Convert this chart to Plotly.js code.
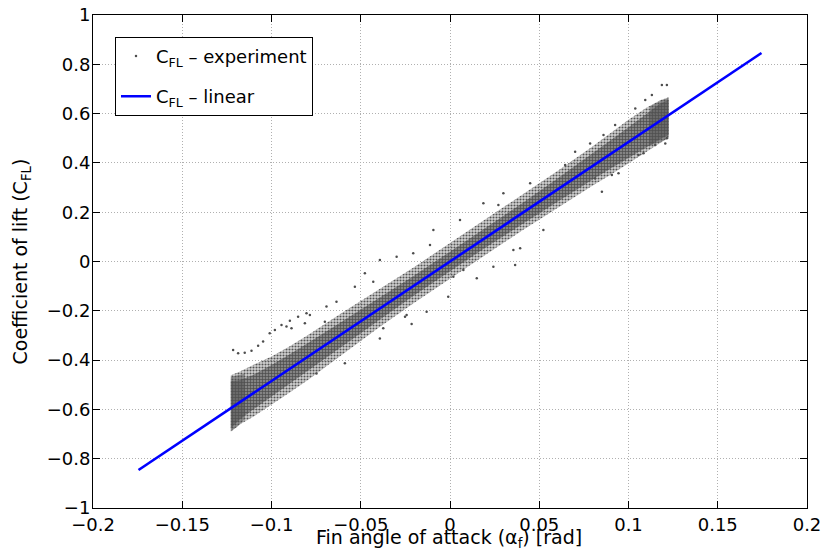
<!DOCTYPE html>
<html>
<head>
<meta charset="utf-8">
<script src="https://cdn.plot.ly/plotly-3.0.1.min.js"></script>
<style>html,body{margin:0;padding:0;background:#fff;}#chart{width:826px;height:554px;}</style>
</head>
<body>
<div id="chart"></div>
<script>
// ---- data ----
// envelope of the experimental scatter cloud (fin angle [rad] -> C_FL)
const bandX      = [-0.1228, -0.118, -0.11, -0.10, -0.09, -0.08, -0.06, -0.04, -0.02, 0, 0.02, 0.04, 0.06, 0.08, 0.09, 0.10, 0.11, 0.118, 0.1225];
const outerUpper = [-0.461, -0.447, -0.419, -0.385, -0.345, -0.300, -0.206, -0.114, -0.022, 0.075, 0.172, 0.269, 0.366, 0.468, 0.522, 0.575, 0.624, 0.655, 0.666];
const outerLower = [-0.691, -0.662, -0.629, -0.580, -0.532, -0.483, -0.376, -0.269, -0.167, -0.070, 0.027, 0.124, 0.216, 0.308, 0.352, 0.400, 0.444, 0.482, 0.504];
const innerUpper = [-0.486, -0.482, -0.459, -0.420, -0.377, -0.333, -0.241, -0.149, -0.057, 0.040, 0.137, 0.234, 0.336, 0.438, 0.492, 0.545, 0.599, 0.642, 0.655];
const innerLower = [-0.676, -0.642, -0.599, -0.545, -0.497, -0.443, -0.341, -0.239, -0.137, -0.040, 0.057, 0.149, 0.241, 0.333, 0.377, 0.420, 0.464, 0.497, 0.514];

// dense end columns of the cloud
const capLeftX   = [-0.1228, -0.1195, -0.1150];
const capLeftUp  = [-0.470, -0.462, -0.455];
const capLeftLo  = [-0.688, -0.672, -0.640];
const capRightX  = [0.1120, 0.1190, 0.1225];
const capRightUp = [0.630, 0.655, 0.664];
const capRightLo = [0.470, 0.488, 0.500];

// individual scattered experiment points outside the dense band
const expX = [-0.1215, -0.1187, -0.1150, -0.1112, -0.1075, -0.1047, -0.1010, -0.0981, -0.0944, -0.0897, -0.0851, -0.0804,
              -0.0215, -0.0589, -0.0393, -0.0252, -0.0748, -0.0916, -0.0785, -0.0692, -0.0636, -0.0888, -0.0813, -0.0701,
              -0.0533, -0.0477, -0.0430, -0.0393, -0.0299, -0.0206, -0.0112, -0.0374, -0.0131, -0.0010, -0.0243, -0.0093,
              0.0056, 0.0187, 0.0271, 0.0299, 0.0449, 0.0355, 0.0393, 0.0243, 0.0150, 0.0523, 0.0365, 0.0019, 0.0075,
              0.0785, 0.0925, 0.1038, 0.1094, 0.1187, 0.1215, 0.1131, 0.0701, 0.0645, 0.0851, 0.0907, 0.0944, 0.1056,
              0.1084, 0.1150, 0.1206, 0.0813, 0.0860, 0.1215];
const expY = [-0.359, -0.372, -0.370, -0.362, -0.342, -0.325, -0.291, -0.278, -0.258, -0.240, -0.224, -0.210,
              -0.254, -0.413, -0.312, -0.224, -0.454, -0.264, -0.217, -0.183, -0.163, -0.271, -0.251, -0.244,
              -0.102, -0.048, -0.082, 0.006, 0.019, 0.033, 0.067, -0.271, -0.204, -0.143, -0.217, 0.128,
              0.168, 0.236, 0.229, 0.277, 0.317, 0.047, 0.054, -0.021, -0.068, 0.128, -0.014, -0.062, -0.034,
              0.479, 0.554, 0.621, 0.655, 0.716, 0.716, 0.675, 0.445, 0.391, 0.283, 0.351, 0.358, 0.432,
              0.439, 0.473, 0.479, 0.337, 0.513, 0.500];

// linear fit line end points
const lineX = [-0.1745, 0.1745];
const lineY = [-0.846, 0.846];

const xTicks = [-0.2, -0.15, -0.1, -0.05, 0, 0.05, 0.1, 0.15, 0.2];
const yTicks = [-1, -0.8, -0.6, -0.4, -0.2, 0, 0.2, 0.4, 0.6, 0.8, 1];

// ---- build polygons from the envelope arrays ----
function poly(xs, up, lo) {
  return {
    x: xs.concat(xs.slice().reverse()),
    y: up.concat(lo.slice().reverse())
  };
}
const FONT = 'DejaVu Sans, Liberation Sans, Arial, sans-serif';
const outer = poly(bandX, outerUpper, outerLower);
const inner = poly(bandX, innerUpper, innerLower);
const capL = poly(capLeftX, capLeftUp, capLeftLo);
const capR = poly(capRightX, capRightUp, capRightLo);

function fillTrace(p, color, pattern) {
  const t = {x: p.x, y: p.y, type: 'scatter', mode: 'lines', fill: 'toself',
          fillcolor: color, line: {width: 0, color: color}, showlegend: false, hoverinfo: 'skip'};
  if (pattern) t.fillpattern = pattern;
  return t;
}

const data = [
  fillTrace(outer, 'rgba(110,110,110,0.30)',
            {shape: '.', size: 3, solidity: 0.4, fgcolor: '#555555', bgcolor: 'rgba(110,110,110,0.30)'}),
  fillTrace(inner, 'rgba(85,85,85,0.45)',
            {shape: '.', size: 3, solidity: 0.5, fgcolor: '#505050', bgcolor: 'rgba(85,85,85,0.45)'}),
  fillTrace(capL, 'rgba(80,80,80,0.50)'),
  fillTrace(capR, 'rgba(80,80,80,0.50)'),
  {x: expX, y: expY, type: 'scatter', mode: 'markers', name: 'C<sub>FL</sub> – experiment',
   legendgroup: 'exp', marker: {size: 2.5, color: '#4d4d4d'}},
  {x: lineX, y: lineY, type: 'scatter', mode: 'lines', name: 'C<sub>FL</sub> – linear',
   legendgroup: 'lin', line: {color: '#0000ff', width: 2.6}}
];

const axisCommon = {
  ticks: 'inside', ticklen: 7, tickcolor: '#000', tickwidth: 1,
  showline: true, linecolor: '#000', linewidth: 1, mirror: 'ticks',
  showgrid: true, gridcolor: '#b0b0b0', griddash: '1px,2px', gridwidth: 1,
  zeroline: false, tickfont: {family: FONT, size: 18, color: '#000'}
};

const layout = {
  width: 826, height: 554,
  margin: {l: 93, r: 19, t: 15, b: 46},
  paper_bgcolor: '#fff', plot_bgcolor: '#fff',
  xaxis: Object.assign({}, axisCommon, {range: [-0.2, 0.2], tickmode: 'array', tickvals: xTicks}),
  yaxis: Object.assign({}, axisCommon, {range: [-1, 1], tickmode: 'array', tickvals: yTicks, ticklabelstandoff: -2}),
  showlegend: true,
  legend: {x: 0.0308, y: 0.956, xanchor: 'left', yanchor: 'top', bgcolor: '#fff',
           bordercolor: '#000', borderwidth: 1, traceorder: 'grouped', tracegroupgap: 14,
           font: {family: FONT, size: 18, color: '#000'}},
  annotations: [
    {text: 'Fin angle of attack (α<sub>f</sub>) [rad]', xref: 'paper', yref: 'paper',
     x: 0.4988, y: 0, xanchor: 'center', yanchor: 'top', yshift: -16, showarrow: false,
     font: {family: FONT, size: 19, color: '#000'}},
    {text: 'Coefficient of lift (C<sub>FL</sub>)', xref: 'paper', yref: 'paper',
     x: -0.0995, y: 0.5, xanchor: 'center', yanchor: 'middle', textangle: -90, showarrow: false,
     font: {family: FONT, size: 19, color: '#000'}}
  ]
};

Plotly.newPlot('chart', data, layout, {staticPlot: true, displayModeBar: false});
</script>
</body>
</html>
